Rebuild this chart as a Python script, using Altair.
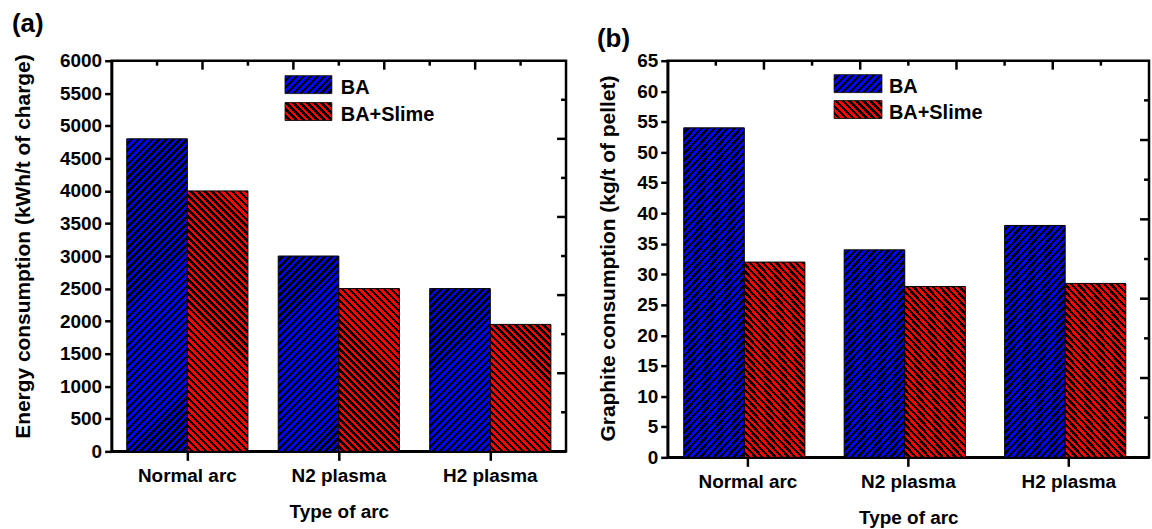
import math
import altair as alt

# ---- data -----------------------------------------------------------------
categories = ["Normal arc", "N2 plasma", "H2 plasma"]
series = ["BA", "BA+Slime"]

energy_ba = [4800, 3000, 2500]          # kWh/t of charge
energy_slime = [4000, 2500, 1950]
graphite_ba = [54, 34, 38]              # kg/t of pellet
graphite_slime = [32, 28, 28.5]

energy_ticks = list(range(0, 6001, 500))
graphite_ticks = list(range(0, 66, 5))

# inward ticks on the top and right edges of each frame (fractions of the edge)
frame_major = [0.2, 0.4, 0.6, 0.8]
frame_minor = [0.1, 0.3, 0.5, 0.7, 0.9]

# ---- style ----------------------------------------------------------------
FONT = "Liberation Sans"
BLUE = "#0000ff"
RED = "#ff0000"
HATCH_PERIOD = 7 / math.sqrt(2)   # px between hatch lines, measured across the lines
HATCH_INK = 0.5                   # share of each period drawn in black
FRAME_W = 2.5


def hatch(color, w, h, direction):
    """Hard-stop linear gradient that paints 45-degree hatching on a w x h box."""
    length = (w + h) / math.sqrt(2)
    k = (w + h) / (w * w + h * h)
    if direction == "/":
        x1, y1, x2, y2 = 0, 0, w * k, h * k
    else:
        x1, y1, x2, y2 = 0, 1, w * k, 1 - h * k
    stops = []
    pos = 0.0
    while pos < length:
        a = pos / length
        b = min((pos + HATCH_PERIOD * (1 - HATCH_INK)) / length, 1.0)
        c = min((pos + HATCH_PERIOD) / length, 1.0)
        stops += [
            {"offset": round(a, 7), "color": color},
            {"offset": round(b, 7), "color": color},
            {"offset": round(b, 7), "color": "black"},
            {"offset": round(c, 7), "color": "black"},
        ]
        pos += HATCH_PERIOD
    return {"gradient": "linear", "x1": x1, "y1": y1, "x2": x2, "y2": y2, "stops": stops}


def panel(ba, slime, ymax, yticks, W, H, ytitle, ytitle_x, ytitle_y,
          tag, tag_x, tag_y, leg_x, leg_y, leg_w, leg_h, leg_gap, leg_text_x):
    xscale = alt.Scale(domain=categories, paddingInner=0.2, paddingOuter=0.1)
    offscale = alt.Scale(domain=series, paddingInner=0, paddingOuter=0)
    yscale = alt.Scale(domain=[0, ymax], nice=False, zero=True)

    xaxis = alt.Axis(
        title="Type of arc", labelAngle=0, labelFont=FONT, labelFontSize=19,
        labelFontWeight="bold", labelColor="black", labelBaseline="alphabetic",
        labelPadding=21, tickSize=9, tickWidth=FRAME_W, tickColor="black",
        domainColor="black", domainWidth=FRAME_W, grid=False,
        titleFont=FONT, titleFontSize=19, titleFontWeight="bold", titleColor="black",
        titleBaseline="alphabetic", titleY=66, titleX=W / 2, titleAlign="center",
    )
    yaxis = alt.Axis(
        values=yticks, format="d", title=ytitle, labelFont=FONT, labelFontSize=19,
        labelFontWeight="bold", labelColor="black", labelPadding=3,
        tickSize=7, tickWidth=FRAME_W, tickColor="black",
        domainColor="black", domainWidth=FRAME_W, grid=False,
        titleFont=FONT, titleFontSize=21, titleFontWeight="bold", titleColor="black",
        titleAngle=270, titleBaseline="alphabetic", titleAlign="center",
        titleX=ytitle_x, titleY=ytitle_y,
    )

    bar_w = 0.4 * W / 3
    layers = []
    for ser, vals, color, direction in [("BA", ba, BLUE, "/"), ("BA+Slime", slime, RED, "\\")]:
        for cat, v in zip(categories, vals):
            h = v / ymax * H
            layers.append(
                alt.Chart(alt.Data(values=[{"cat": cat, "series": ser, "value": v}]))
                .mark_bar(fill=hatch(color, bar_w, h, direction), stroke="black", strokeWidth=1)
                .encode(
                    x=alt.X("cat:N", scale=xscale, axis=xaxis, sort=categories),
                    xOffset=alt.XOffset("series:N", scale=offscale, sort=series),
                    y=alt.Y("value:Q", scale=yscale, axis=yaxis),
                )
            )

    # legend: hatched swatches and labels
    for i, (ser, color, direction) in enumerate([("BA", BLUE, "/"), ("BA+Slime", RED, "\\")]):
        top = leg_y + i * leg_gap
        layers.append(
            alt.Chart(alt.Data(values=[{"label": ser}]))
            .mark_rect(fill=hatch(color, leg_w, leg_h, direction), stroke="black", strokeWidth=0.8)
            .encode(x=alt.value(leg_x), x2=alt.value(leg_x + leg_w),
                    y=alt.value(top), y2=alt.value(top + leg_h))
        )
        layers.append(
            alt.Chart(alt.Data(values=[{"label": ser}]))
            .mark_text(font=FONT, fontSize=20, fontWeight="bold", color="black",
                       align="left", baseline="alphabetic")
            .encode(text="label:N", x=alt.value(leg_text_x), y=alt.value(top + leg_h))
        )

    # panel tag
    layers.append(
        alt.Chart(alt.Data(values=[{"label": tag}]))
        .mark_text(font=FONT, fontSize=26, fontWeight="bold", color="black",
                   align="left", baseline="alphabetic")
        .encode(text="label:N", x=alt.value(tag_x), y=alt.value(tag_y))
    )

    content = alt.layer(*layers)

    # inward ticks along the top and right edges
    def top_ticks(vals, length):
        return (
            alt.Chart(alt.Data(values=[{"f": f} for f in vals]))
            .mark_rule(color="black", strokeWidth=FRAME_W)
            .encode(x=alt.X("f:Q", scale=alt.Scale(domain=[0, 1]), axis=None),
                    y=alt.value(0), y2=alt.value(length))
        )

    def right_ticks(vals, length):
        return (
            alt.Chart(alt.Data(values=[{"f": f} for f in vals]))
            .mark_rule(color="black", strokeWidth=FRAME_W)
            .encode(y=alt.Y("f:Q", scale=alt.Scale(domain=[0, 1]), axis=None),
                    x=alt.value(W - length), x2=alt.value(W))
        )

    return (
        alt.layer(content, top_ticks(frame_major, 9), top_ticks(frame_minor, 5),
                  right_ticks(frame_major, 9), right_ticks(frame_minor, 5))
        .resolve_scale(x="independent", y="independent")
        .properties(width=W, height=H)
    )


panel_a = panel(energy_ba, energy_slime, 6000, energy_ticks, 456, 392,
                "Energy consumption (kWh/t of charge)", -82, 186,
                "(a)", -100, -29, 174, 15, 47, 18, 27, 230)
panel_b = panel(graphite_ba, graphite_slime, 65, graphite_ticks, 483, 398,
                "Graphite consumption (kg/t of pellet)", -53, 198,
                "(b)", -71, -14, 167, 14, 48, 18, 26, 222)

chart = (
    alt.hconcat(panel_a, panel_b, spacing=102, bounds="flush")
    .properties(padding={"left": 10, "top": 8, "right": 0, "bottom": 0}, background="white")
    .configure_view(stroke="black", strokeWidth=FRAME_W)
)

chart.save("out.html", embed_options={"renderer": "svg", "actions": False})
